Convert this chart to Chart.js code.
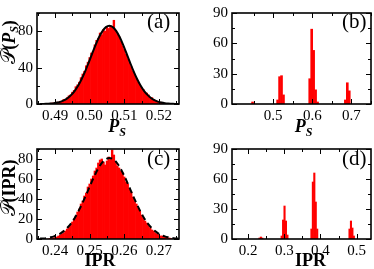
<!DOCTYPE html>
<html>
<head>
<meta charset="utf-8">
<script src="https://cdn.jsdelivr.net/npm/chart.js@4.4.1/dist/chart.umd.min.js"></script>
<style>
  html, body { margin: 0; padding: 0; background: #fff; }
  #wrap { position: relative; width: 374px; height: 269px; overflow: hidden; }
  canvas { position: absolute; }
</style>
</head>
<body>
<div id="wrap">
  <canvas id="pa" width="187" height="136" style="left:0;top:0"></canvas>
  <canvas id="pb" width="187" height="136" style="left:187px;top:0"></canvas>
  <canvas id="pc" width="187" height="133" style="left:0;top:136px"></canvas>
  <canvas id="pd" width="187" height="133" style="left:187px;top:136px"></canvas>
</div>
<script>
// (a) P_S histogram: bins 0.0005 wide, first bin centre 0.4880
var psStartA = 0.4880, psWidthA = 0.0005;
var psCountsA = [0,0.5,1,1,1.5,2,2,3,3,5, 5,7,9,10,13,15,19,21,24,29,
  33,36,42,46,51,56,58,65,70,72, 78,76,82,80,85,83,86,84,92,81,
  77,74,69,64,60,55,50,45,41,36, 32,28,24,21,18,16,13,12,10,7,
  7,5,4,3,2,2,1,1,0.5,0.5, 0,0];
// gaussian fit for (a), sampled every 0.001 from 0.4857
var fitStartA = 0.4857, fitStepA = 0.001;
var fitA = [0.1,0.1,0.3,0.5,0.9,1.6,2.6,4.2,6.6,10.0,14.5,20.3,27.5,35.9,45.3,55.1,64.7,73.3,80.1,84.5,
  86.0,84.5,80.1,73.3,64.7,55.1,45.3,35.9,27.5,20.3,14.5,10.0,6.6,4.2,2.6,1.6,0.9,0.5,0.3,0.1,0.1];

// (b) P_S histogram, only non-empty bins
var psBinsB = [0.4475, 0.5115, 0.5165, 0.5215, 0.5265, 0.5935, 0.5985, 0.6035, 0.6085, 0.6135, 0.6845, 0.6895, 0.6945];
var psCountsB = [2, 4, 27, 28, 9, 25, 74, 53, 14, 2, 4, 21, 13];

// (c) IPR histogram: bins 0.0005 wide, first bin centre 0.2380
var iprStartC = 0.2380, iprWidthC = 0.0005;
var iprCountsC = [0,0.5,1,1,1.5,2,3,4,5,6, 8,10,12,14,17,20,23,27,30,35,
  38,43,46,52,55,60,63,68,71,76, 79,80,77,74,78,82,80,89,84,77,
  73,71,68,66,62,57,55,50,47,42, 38,35,31,28,24,21,18,16,13,11,
  9,8,6,5,4,3,3,2,2,1, 1,0.5];
// gaussian fit for (c), dashed, every 0.001 from 0.2357
var fitStartC = 0.2357, fitStepC = 0.001;
var fitC = [0.4,0.6,1.0,1.7,2.6,3.9,5.8,8.4,11.7,15.9,21.1,27.3,34.3,41.9,49.9,57.9,65.3,71.8,76.8,79.9,
  81.0,79.9,76.8,71.8,65.3,57.9,49.9,41.9,34.3,27.3,21.1,15.9,11.7,8.4,5.8,3.9,2.6,1.7,1.0,0.6,0.4];

// (d) IPR histogram, only non-empty bins
var iprBinsD = [0.2310, 0.2350, 0.2390, 0.2925, 0.2965, 0.3005, 0.3045, 0.3085, 0.3750, 0.3790, 0.3830, 0.3870, 0.3910, 0.4805, 0.4845, 0.4885, 0.4925];
var iprCountsD = [1, 2, 1, 3, 19, 33, 18, 4, 10, 57, 66, 37, 10, 10, 18, 11, 3];

// tick labels
var xTicksA = ['0.49', '0.50', '0.51', '0.52'];
var yTicksA = ['0', '40', '80'];
var xTicksB = ['0.5', '0.6', '0.7'];
var yTicksB = ['0', '30', '60', '90'];
var xTicksC = ['0.24', '0.25', '0.26', '0.27'];
var yTicksC = ['0', '20', '40', '60', '80'];
var xTicksD = ['0.2', '0.3', '0.4', '0.5'];
var yTicksD = ['0', '30', '60', '90'];

var SERIF = '"Liberation Serif", "Times New Roman", serif';

function seq(start, step, n) {
    var out = [];
    for (var i = 0; i < n; i++) out.push(+(start + i * step).toFixed(5));
    return out;
}

function richWidth(ctx, parts) {
    var w = 0;
    parts.forEach(function (q) { ctx.font = q.font; w += ctx.measureText(q.t).width; });
    return w;
}
function drawRich(ctx, parts, x, y) {
    var cx = x - richWidth(ctx, parts) / 2;
    parts.forEach(function (q) {
        ctx.font = q.font;
        ctx.fillText(q.t, cx, y + (q.dy || 0));
        cx += ctx.measureText(q.t).width;
    });
}

// minor ticks half way between the majors, kept inside the axis range
function minorOf(vals, min, max) {
    var step = vals[1] - vals[0], out = [];
    for (var v = vals[0] - step / 2; v <= max + 1e-9; v += step) {
        if (v >= min - 1e-9) out.push(v);
    }
    return out;
}

function makePanel(id, p) {
    var xv = p.xTicks.map(parseFloat), yv = p.yTicks.map(parseFloat);

    var datasets = [{
        type: 'bar',
        data: p.bins.map(function (b, i) { return {x: b, y: p.counts[i]}; }),
        backgroundColor: '#ff0000',
        borderWidth: 0,
        barPercentage: 1,
        categoryPercentage: 1,
        grouped: false,
        order: 2
    }];
    if (p.fitX) {
        datasets.push({
            type: 'line',
            data: p.fitX.map(function (x, i) { return {x: x, y: p.fitY[i]}; }),
            borderColor: '#000',
            borderWidth: 2,
            borderDash: p.dash || [],
            pointRadius: 0,
            cubicInterpolationMode: 'monotone',
            fill: false,
            order: 1
        });
    }

    var frame = {
        id: 'frame' + id,
        afterDatasetsDraw: function (chart) {
            var ctx = chart.ctx, a = chart.chartArea, sx = chart.scales.x, sy = chart.scales.y;
            ctx.save();
            ctx.strokeStyle = '#000';
            ctx.lineWidth = 1;
            ctx.beginPath();
            function xt(v, len) {
                var px = Math.round(sx.getPixelForValue(v)) + 0.5;
                ctx.moveTo(px, a.bottom); ctx.lineTo(px, a.bottom - len);
                ctx.moveTo(px, a.top); ctx.lineTo(px, a.top + len);
            }
            function yt(v, len) {
                var py = Math.round(sy.getPixelForValue(v)) + 0.5;
                ctx.moveTo(a.left, py); ctx.lineTo(a.left + len, py);
                ctx.moveTo(a.right, py); ctx.lineTo(a.right - len, py);
            }
            xv.forEach(function (v) { xt(v, 5); });
            minorOf(xv, p.xMin, p.xMax).forEach(function (v) { xt(v, 3); });
            yv.forEach(function (v) { yt(v, 5); });
            minorOf(yv, 0, p.yMax).forEach(function (v) { yt(v, 3); });
            ctx.stroke();
            ctx.lineWidth = 1.6;
            ctx.strokeRect(a.left, a.top, a.right - a.left, a.bottom - a.top);
            ctx.restore();
        },
        afterDraw: function (chart) {
            var ctx = chart.ctx, a = chart.chartArea;
            ctx.save();
            ctx.fillStyle = '#000';
            ctx.textBaseline = 'alphabetic';
            // x title
            drawRich(ctx, p.xTitle, (a.left + a.right) / 2 + (p.xTitleDx || 0), p.xTitleY);
            // y title, rotated
            if (p.yTitle) {
                ctx.translate(p.yTitleX, p.yTitleY);
                ctx.rotate(-Math.PI / 2);
                drawRich(ctx, p.yTitle, 0, 0);
                ctx.setTransform(1, 0, 0, 1, 0, 0);
            }
            // panel tag
            ctx.font = '21px ' + SERIF;
            ctx.textAlign = 'left';
            ctx.fillText(p.tag, p.tagX, p.tagY);
            ctx.restore();
        }
    };

    return new Chart(document.getElementById(id), {
        type: 'bar',
        data: {datasets: datasets},
        options: {
            responsive: false,
            animation: false,
            layout: {padding: p.pad},
            plugins: {legend: {display: false}, tooltip: {enabled: false}},
            scales: {
                x: {
                    type: 'linear',
                    offset: false,
                    min: p.xMin, max: p.xMax,
                    grid: {display: false, drawTicks: false},
                    border: {display: false},
                    afterBuildTicks: function (s) { s.ticks = xv.map(function (v) { return {value: v}; }); },
                    afterFit: function (s) { s.height = p.xAxisH; },
                    ticks: {
                        callback: function (v, i) { return p.xTicks[i]; },
                        font: {family: SERIF, size: 15},
                        color: '#000',
                        padding: 3,
                        maxRotation: 0,
                        autoSkip: false
                    }
                },
                y: {
                    min: 0, max: p.yMax,
                    grid: {display: false, drawTicks: false},
                    border: {display: false},
                    afterBuildTicks: function (s) { s.ticks = yv.map(function (v) { return {value: v}; }); },
                    afterFit: function (s) { s.width = p.yAxisW; },
                    ticks: {
                        callback: function (v, i) { return p.yTicks[i]; },
                        font: {family: SERIF, size: 15},
                        color: '#000',
                        padding: 4,
                        autoSkip: false
                    }
                }
            }
        },
        plugins: [frame]
    });
}

var bI18 = 'bold italic 18px ' + SERIF, bI12 = 'bold italic 12px ' + SERIF, b18 = 'bold 18px ' + SERIF;
var script20 = '20px ' + SERIF + ', "DejaVu Serif", "DejaVu Sans"';
var titlePS = [{t: 'P', font: bI18}, {t: 'S', font: bI12, dy: 4}];
var titleIPR = [{t: 'IPR', font: b18}];

makePanel('pa', {
    bins: seq(psStartA, psWidthA, psCountsA.length), counts: psCountsA,
    fitX: seq(fitStartA, fitStepA, fitA.length), fitY: fitA,
    xMin: 0.4848, xMax: 0.5258, yMax: 100,
    xTicks: xTicksA, yTicks: yTicksA,
    pad: {top: 5, right: 8, left: 0, bottom: 0}, yAxisW: 37, xAxisH: 32,
    xTitle: titlePS, xTitleY: 132, xTitleDx: 9,
    yTitle: [{t: '\u{1D4AB}', font: script20}, {t: '(', font: b18}, {t: 'P', font: bI18}, {t: 'S', font: bI12, dy: 3}, {t: ')', font: b18}],
    yTitleX: 15, yTitleY: 42,
    tag: '(a)', tagX: 147, tagY: 28
});
makePanel('pb', {
    bins: psBinsB, counts: psCountsB,
    xMin: 0.395, xMax: 0.75, yMax: 90,
    xTicks: xTicksB, yTicks: yTicksB,
    pad: {top: 5, right: 3, left: 0, bottom: 0}, yAxisW: 45, xAxisH: 32,
    xTitle: titlePS, xTitleY: 132, xTitleDx: 2,
    tag: '(b)', tagX: 155, tagY: 28
});
makePanel('pc', {
    bins: seq(iprStartC, iprWidthC, iprCountsC.length), counts: iprCountsC,
    fitX: seq(fitStartC, fitStepC, fitC.length), fitY: fitC, dash: [6, 4],
    xMin: 0.2348, xMax: 0.2758, yMax: 90,
    xTicks: xTicksC, yTicks: yTicksC,
    pad: {top: 4.5, right: 8, left: 0, bottom: 0}, yAxisW: 37, xAxisH: 30,
    xTitle: titleIPR, xTitleY: 130, xTitleDx: -8,
    yTitle: [{t: '\u{1D4AB}', font: script20}, {t: '(IPR)', font: b18}],
    yTitleX: 15, yTitleY: 52,
    tag: '(c)', tagX: 147, tagY: 29
});
makePanel('pd', {
    bins: iprBinsD, counts: iprCountsD,
    xMin: 0.155, xMax: 0.54, yMax: 90,
    xTicks: xTicksD, yTicks: yTicksD,
    pad: {top: 4.5, right: 3, left: 0, bottom: 0}, yAxisW: 45, xAxisH: 30,
    xTitle: titleIPR, xTitleY: 130, xTitleDx: 9,
    tag: '(d)', tagX: 155, tagY: 29
});
</script>
</body>
</html>
